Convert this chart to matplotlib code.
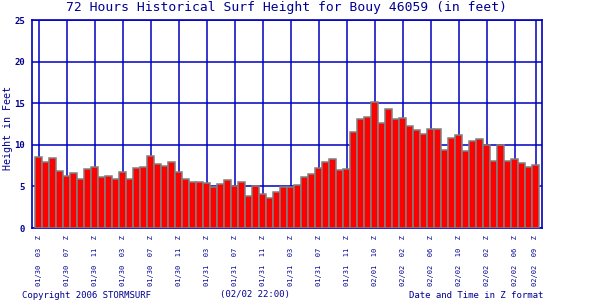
import numpy as np
import matplotlib
matplotlib.use('Agg')
from matplotlib import pyplot as plt

# surf height per hour (feet), 72 hours
heights = [8.5, 7.9, 8.4, 6.9, 6.3, 6.6, 5.85, 7.05, 7.3, 6.1, 6.2, 5.85,
           6.7, 5.85, 7.2, 7.3, 8.7, 7.65, 7.4, 7.9, 6.7, 5.85,
           5.5, 5.5, 5.37, 4.9, 5.25, 5.73, 5.0, 5.5, 3.8, 5.0, 4.05, 3.57,
           4.3, 4.9, 4.9, 5.13, 6.1, 6.45, 7.2, 7.9, 8.26,
           6.93, 7.05, 11.5, 13.06, 13.4, 15.1, 12.58, 14.26, 13.06, 13.2,
           12.22, 11.74, 11.26, 11.86, 11.86, 9.34, 10.78, 11.14, 9.22,
           10.42, 10.66, 9.94, 8.0, 9.94, 8.0, 8.26, 7.78, 7.3, 7.54]

tick_pos = [0, 4, 8, 12, 16, 20, 24, 28, 32, 36, 40, 44, 48, 52, 56, 60, 64, 68, 71]
tick_dates = ['01/30', '01/30', '01/30', '01/30', '01/30', '01/30', '01/31', '01/31',
              '01/31', '01/31', '01/31', '01/31', '02/01', '02/02', '02/02', '02/02',
              '02/02', '02/02', '02/02']
tick_hours = ['03', '07', '11', '03', '07', '11', '03', '07', '11', '03', '07', '11',
              '10', '02', '06', '10', '02', '06', '09']

y_ticks = [0, 5, 10, 15, 20, 25]

lineColor = '#0000c0'
textColor = '#000090'
plt.rcParams['font.family'] = ['DejaVu Sans Mono']

fig = plt.figure(figsize=(6, 3), dpi=100)
ax = fig.add_axes([32 / 600, 1 - 228 / 300, 510 / 600, 208 / 300])

x = np.arange(len(heights))
ax.bar(x, heights, width=1.0, color='#ff0000', edgecolor='#808080',
       linewidth=1.1, zorder=3)

ax.set_xlim(-0.5 - 3 / 7, 71.5 + 3 / 7)
ax.set_ylim(0, 25)

ax.set_xticks(tick_pos)
ax.set_xticklabels(['%s  %s  Z' % (d, h) for d, h in zip(tick_dates, tick_hours)],
                   rotation=90, fontsize=5, color=textColor)
ax.set_yticks(y_ticks)
ax.set_yticklabels([str(v) for v in y_ticks], fontsize=6.5, color=textColor,
                   fontweight='bold')
ax.tick_params(length=0, pad=5)

ax.grid(True, color=lineColor, linewidth=1.1, zorder=0)
ax.set_axisbelow(True)
for sp in ax.spines.values():
    sp.set_color(lineColor)
    sp.set_linewidth(1.2)

fig.text(8 / 600, 1 - 128 / 300, 'Height in Feet', rotation=90,
         ha='center', va='center', fontsize=7.2, color=textColor)

fig.text(286 / 600, 1 - 8 / 300, '72 Hours Historical Surf Height for Bouy 46059 (in feet)',
         ha='center', va='center', fontsize=9.4, color=textColor)
fig.text(22 / 600, 1 - 295 / 300, 'Copyright 2006 STORMSURF',
         ha='left', va='center', fontsize=6.5, color=textColor)
fig.text(220 / 600, 1 - 295 / 300, '(02/02 22:00)',
         ha='left', va='center', fontsize=6.5, color=textColor)
fig.text(543 / 600, 1 - 295 / 300, 'Date and Time in Z format',
         ha='right', va='center', fontsize=6.5, color=textColor)

plt.savefig('out.png', dpi=100, facecolor='white')
plt.close()
